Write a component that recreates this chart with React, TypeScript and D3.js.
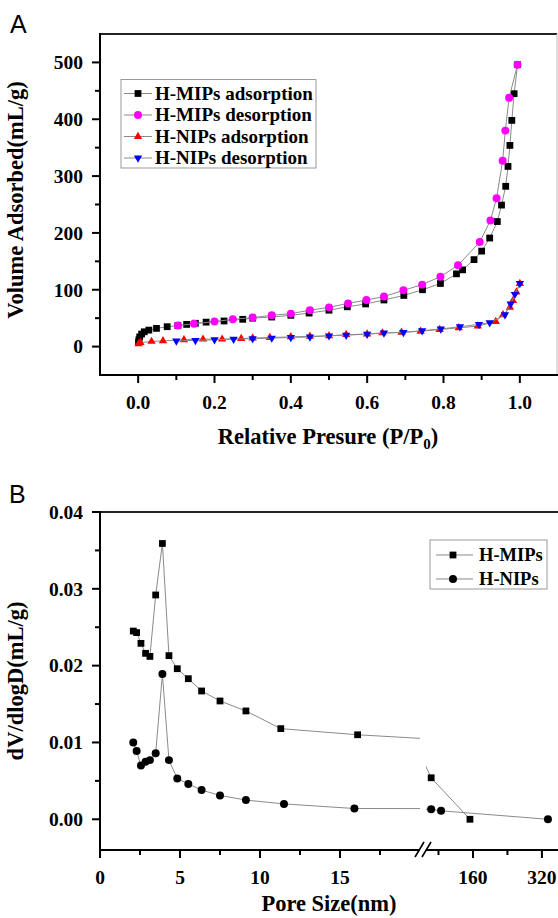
import React from "react";
import * as d3 from "d3";

// Panel A: N2 isotherms (P/P0, volume mL/g)
const mipsAds: [number, number][] = [
  [0.001, 8], [0.002, 12], [0.004, 17], [0.009, 22], [0.016, 26], [0.028, 29],
  [0.048, 32], [0.076, 35], [0.104, 37], [0.127, 39], [0.15, 41], [0.178, 43],
  [0.225, 45], [0.274, 48], [0.3, 50], [0.35, 52], [0.4, 55], [0.448, 59],
  [0.5, 64], [0.548, 70], [0.596, 75], [0.644, 82], [0.696, 90], [0.745, 100],
  [0.792, 111], [0.834, 128], [0.85, 135], [0.88, 153], [0.9, 168], [0.921, 191],
  [0.941, 220], [0.952, 249], [0.963, 282], [0.969, 317], [0.974, 354],
  [0.979, 398], [0.985, 445], [0.994, 496],
];
const mipsDes: [number, number][] = [
  [0.994, 496], [0.972, 438], [0.962, 380], [0.955, 327], [0.939, 261],
  [0.923, 222], [0.895, 184], [0.838, 143], [0.792, 123], [0.744, 109],
  [0.695, 99], [0.644, 88], [0.598, 82], [0.55, 76], [0.5, 69], [0.45, 64],
  [0.4, 58], [0.35, 55], [0.3, 51], [0.248, 48], [0.2, 44], [0.146, 40], [0.104, 37],
];
const nipsAds: [number, number][] = [
  [0.001, 5], [0.006, 7], [0.035, 9], [0.065, 10], [0.12, 12], [0.17, 13],
  [0.22, 13], [0.27, 14], [0.3, 15], [0.345, 16], [0.4, 17], [0.45, 18],
  [0.5, 19], [0.545, 21], [0.6, 22], [0.64, 24], [0.69, 25], [0.74, 27],
  [0.79, 30], [0.84, 33], [0.89, 36], [0.937, 44], [0.956, 56], [0.974, 69],
  [0.982, 81], [0.991, 96], [1.0, 111],
];
const nipsDes: [number, number][] = [
  [1.0, 111], [0.987, 92], [0.976, 75], [0.961, 56], [0.921, 42], [0.893, 39],
  [0.843, 35], [0.793, 31], [0.744, 28], [0.695, 25], [0.644, 24], [0.6, 22],
  [0.545, 20], [0.5, 19], [0.45, 17], [0.4, 16], [0.35, 15], [0.3, 14],
  [0.25, 13], [0.2, 12], [0.15, 11], [0.1, 10],
];

// Panel B: pore size distribution
const mipsPore = [2.08, 2.29, 2.56, 2.85, 3.12, 3.48, 3.9, 4.31, 4.83, 5.52, 6.35, 7.5, 9.12, 11.3, 16.1, 63, 153];
const mipsDv = [0.0245, 0.0243, 0.0229, 0.0216, 0.0212, 0.0292, 0.0359, 0.0213, 0.0196, 0.0183, 0.0167, 0.0154, 0.0141, 0.0118, 0.011, 0.0054, 0.0];
const nipsPore = [2.08, 2.29, 2.56, 2.85, 3.12, 3.48, 3.9, 4.31, 4.83, 5.52, 6.35, 7.5, 9.12, 11.5, 15.9, 63, 86, 334];
const nipsDv = [0.01, 0.0089, 0.007, 0.0075, 0.0077, 0.0086, 0.0189, 0.0077, 0.0053, 0.0046, 0.0038, 0.0031, 0.0025, 0.002, 0.0014, 0.0013, 0.0011, 0.0];

const isoXTicks = [0, 0.2, 0.4, 0.6, 0.8, 1.0];
const isoXMinor = [0.1, 0.3, 0.5, 0.7, 0.9];
const isoYTicks = [0, 100, 200, 300, 400, 500];
const isoYMinor = [50, 150, 250, 350, 450];
const psdYTicks = [0, 0.01, 0.02, 0.03, 0.04];
const psdYMinor = [0.005, 0.015, 0.025, 0.035];
const poreLowTicks = [0, 5, 10, 15];
const poreLowMinor = [2.5, 7.5, 12.5, 17.5];
const poreHighTicks = [160, 320];
const poreHighMinor = [80, 240];

const isoLegend = ["H-MIPs adsorption", "H-MIPs desorption", "H-NIPs adsorption", "H-NIPs desorption"];
const psdLegend = ["H-MIPs", "H-NIPs"];

const FONT = "'Liberation Serif', 'Times New Roman', serif";
const LINE = "#8a8a8a";

const sym = (type: d3.SymbolType, size: number) => d3.symbol().type(type).size(size)() as string;
const squareP = sym(d3.symbolSquare, 46);
const circleP = sym(d3.symbolCircle, 50);
const triP = sym(d3.symbolTriangle, 30);

const isoSeries = [
  { data: mipsAds, path: squareP, color: "#000000", rot: 0 },
  { data: mipsDes, path: circleP, color: "#ff00ff", rot: 0 },
  { data: nipsAds, path: triP, color: "#ff0000", rot: 0 },
  { data: nipsDes, path: triP, color: "#0000ff", rot: 180 },
];

function App() {
  const xA = d3.scaleLinear().domain([-0.1, 1.1]).range([100, 558]);
  const yA = d3.scaleLinear().domain([-50, 550]).range([375, 34]);

  const yB = d3.scaleLinear().domain([-0.004, 0.04]).range([850, 512]);
  const xLow = d3.scaleLinear().domain([0, 20]).range([100, 420]);
  const xHigh = d3.scaleLinear().domain([51, 355]).range([426, 557]);
  const xB = (v: number) => (v <= 20 ? xLow(v) : xHigh(v));

  const lineA = d3.line<[number, number]>().x((d) => xA(d[0])).y((d) => yA(d[1]));

  const psd = [
    { x: mipsPore, y: mipsDv, path: squareP },
    { x: nipsPore, y: nipsDv, path: circleP },
  ];
  // each side of the broken axis draws the whole line with its own scale, clipped
  const lineIn = (sc: d3.ScaleLinear<number, number>, xs: number[], ys: number[]) =>
    d3.line<number>().x((d) => sc(xs[d])).y((d) => yB(ys[d]))(d3.range(xs.length)) as string;

  const tickTxt = { fontFamily: FONT, fontWeight: 700, fontSize: 19.5 } as const;
  const titleTxt = { fontFamily: FONT, fontWeight: 700, fontSize: 22.5 } as const;

  return (
    <svg width={558} height={918} style={{ position: "absolute", left: 0, top: 0, background: "#fff" }}>
      <defs>
        <clipPath id="segLow"><rect x={100} y={505} width={320} height={350} /></clipPath>
        <clipPath id="segHigh"><rect x={426} y={505} width={132} height={350} /></clipPath>
      </defs>

      {/* ---------- Panel A ---------- */}
      <text x={10} y={33} fontFamily="'Liberation Sans', Arial, sans-serif" fontSize={25}>A</text>
      <line x1={100} x2={557} y1={34} y2={34} stroke="#222" strokeWidth={2} />
      <line x1={557} x2={557} y1={34} y2={375} stroke="#bbb" strokeWidth={1} />
      <line x1={100} x2={100} y1={33} y2={376} stroke="#000" strokeWidth={2} />
      <line x1={99} x2={558} y1={375} y2={375} stroke="#000" strokeWidth={2} />

      {isoYTicks.map((t) => (
        <g key={"ya" + t}>
          <line x1={92} x2={100} y1={yA(t)} y2={yA(t)} stroke="#000" strokeWidth={2} />
          <text x={83} y={yA(t)} dy="0.35em" textAnchor="end" {...tickTxt}>{t}</text>
        </g>
      ))}
      {isoYMinor.map((t) => (
        <line key={"yam" + t} x1={95} x2={100} y1={yA(t)} y2={yA(t)} stroke="#000" strokeWidth={2} />
      ))}
      {isoXTicks.map((t) => (
        <g key={"xa" + t}>
          <line x1={xA(t)} x2={xA(t)} y1={375} y2={383} stroke="#000" strokeWidth={2} />
          <text x={xA(t)} y={402} dy="0.35em" textAnchor="middle" {...tickTxt}>{d3.format(".1f")(t)}</text>
        </g>
      ))}
      {isoXMinor.map((t) => (
        <line key={"xam" + t} x1={xA(t)} x2={xA(t)} y1={375} y2={380} stroke="#000" strokeWidth={2} />
      ))}

      <text transform="translate(23,200) rotate(-90)" textAnchor="middle" {...titleTxt}>Volume Adsorbed(mL/g)</text>
      <text x={328} y={444} textAnchor="middle" {...titleTxt}>
        Relative Presure (P/P<tspan fontSize={15} dy={5}>0</tspan><tspan dy={-5}>)</tspan>
      </text>

      {isoSeries.map((s, i) => (
        <g key={"iso" + i}>
          <path d={lineA(s.data) as string} fill="none" stroke={LINE} strokeWidth={1} />
          {s.data.map((d, j) => (
            <path key={j} d={s.path} fill={s.color}
              transform={`translate(${xA(d[0])},${yA(d[1])}) rotate(${s.rot})`} />
          ))}
        </g>
      ))}

      <rect x={121} y={79.5} width={195} height={88.5} fill="#fff" stroke="#999" strokeWidth={1} />
      {isoLegend.map((name, i) => {
        const cy = 93.5 + i * 21.5;
        const s = isoSeries[i];
        return (
          <g key={"lga" + i}>
            <line x1={124} x2={152} y1={cy} y2={cy} stroke={LINE} strokeWidth={1} />
            <path d={s.path} fill={s.color} transform={`translate(138,${cy}) rotate(${s.rot})`} />
            <text x={155} y={cy} dy="0.33em" fontFamily={FONT} fontWeight={700} fontSize={19}>{name}</text>
          </g>
        );
      })}

      {/* ---------- Panel B ---------- */}
      <text x={9} y={503} fontFamily="'Liberation Sans', Arial, sans-serif" fontSize={25}>B</text>
      <line x1={100} x2={558} y1={512} y2={512} stroke="#222" strokeWidth={2} />
      <line x1={100} x2={100} y1={511} y2={851} stroke="#000" strokeWidth={2} />
      <line x1={99} x2={420} y1={850} y2={850} stroke="#000" strokeWidth={2} />
      <line x1={426} x2={558} y1={850} y2={850} stroke="#000" strokeWidth={2} />
      <line x1={415} x2={424} y1={857} y2={842} stroke="#000" strokeWidth={1.6} />
      <line x1={422} x2={431} y1={857} y2={842} stroke="#000" strokeWidth={1.6} />

      {psdYTicks.map((t) => (
        <g key={"yb" + t}>
          <line x1={92} x2={100} y1={yB(t)} y2={yB(t)} stroke="#000" strokeWidth={2} />
          <text x={83} y={yB(t)} dy="0.35em" textAnchor="end" {...tickTxt}>{d3.format(".2f")(t)}</text>
        </g>
      ))}
      {psdYMinor.map((t) => (
        <line key={"ybm" + t} x1={95} x2={100} y1={yB(t)} y2={yB(t)} stroke="#000" strokeWidth={2} />
      ))}
      {[...poreLowTicks, ...poreHighTicks].map((t) => (
        <g key={"xb" + t}>
          <line x1={xB(t)} x2={xB(t)} y1={850} y2={858} stroke="#000" strokeWidth={2} />
          <text x={xB(t)} y={877} dy="0.35em" textAnchor="middle" {...tickTxt}>{t}</text>
        </g>
      ))}
      {[...poreLowMinor, ...poreHighMinor].map((t) => (
        <line key={"xbm" + t} x1={xB(t)} x2={xB(t)} y1={850} y2={855} stroke="#000" strokeWidth={2} />
      ))}

      <text transform="translate(23,681) rotate(-90)" textAnchor="middle" {...titleTxt}>dV/dlogD(mL/g)</text>
      <text x={329} y={911} textAnchor="middle" {...titleTxt}>Pore Size(nm)</text>

      {psd.map((s, i) => (
        <g key={"psd" + i}>
          <path d={lineIn(xLow, s.x, s.y)} fill="none" stroke={LINE} strokeWidth={1} clipPath="url(#segLow)" />
          <path d={lineIn(xHigh, s.x, s.y)} fill="none" stroke={LINE} strokeWidth={1} clipPath="url(#segHigh)" />
          {s.x.map((v, j) => (
            <path key={j} d={s.path} fill="#000" transform={`translate(${xB(v)},${yB(s.y[j])})`} />
          ))}
        </g>
      ))}

      <rect x={430} y={540} width={117} height={49} fill="#fff" stroke="#999" strokeWidth={1} />
      {psdLegend.map((name, i) => {
        const cy = 555 + i * 24;
        return (
          <g key={"lgb" + i}>
            <line x1={436} x2={473} y1={cy} y2={cy} stroke={LINE} strokeWidth={1} />
            <path d={psd[i].path} fill="#000" transform={`translate(453,${cy})`} />
            <text x={479} y={cy} dy="0.33em" fontFamily={FONT} fontWeight={700} fontSize={18.5}>{name}</text>
          </g>
        );
      })}
    </svg>
  );
}

export default App;
